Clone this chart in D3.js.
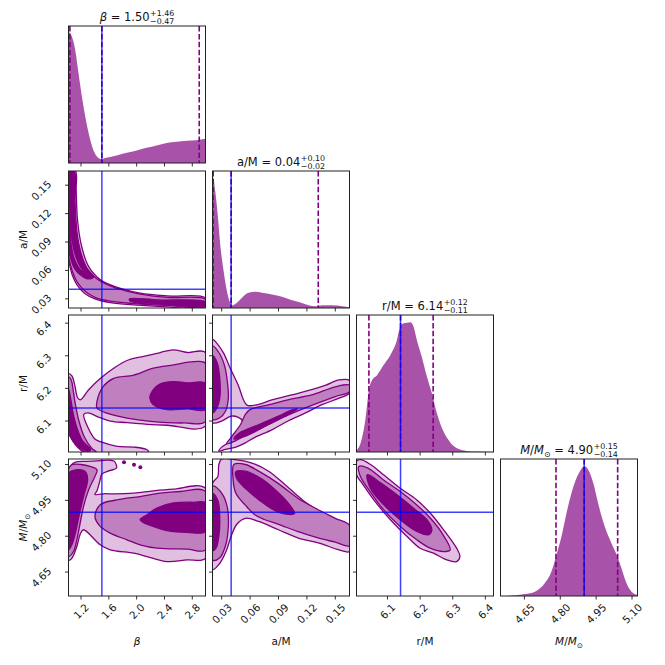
<!DOCTYPE html>
<html>
<head>
<meta charset="utf-8">
<script src="https://cdn.jsdelivr.net/npm/d3@7"></script>
<style>
body { margin: 0; background: #fff; }
svg { font-family: "DejaVu Sans", sans-serif; }
</style>
</head>
<body>
<svg id="chart" width="665" height="665"></svg>
<script>
// parameters, axis ranges and ticks
const names = ["beta", "a", "r", "M"];
const ranges = [[1.02, 2.99], [0.0203, 0.165], [6.005, 6.425], [4.55, 5.123]];
const betaTicks = [1.2, 1.6, 2.0, 2.4, 2.8];
const aTicks = [0.03, 0.06, 0.09, 0.12, 0.15];
const rTicks = [6.1, 6.2, 6.3, 6.4];
const mTicks = [4.65, 4.80, 4.95, 5.10];
const tickFormats = [".1f", ".2f", ".1f", ".2f"];
const truths = [1.50, 0.04, 6.14, 4.90];
const quantiles = [[1.04, 1.50, 2.90], [0.021, 0.04, 0.132], [6.043, 6.14, 6.240], [4.782, 4.90, 5.04]];
const medians = ["1.50", "0.04", "6.14", "4.90"];
const plusErr = ["+1.46", "+0.10", "+0.12", "+0.15"];
const minusErr = ["\u22120.47", "\u22120.02", "\u22120.11", "\u22120.14"];

// 1D marginal densities (normalised to peak 1)
const betaHistX = [1.02, 1.03, 1.068, 1.116, 1.163, 1.211, 1.259, 1.307, 1.355, 1.402, 1.45, 1.498, 1.546, 1.618, 1.713, 1.857, 2.0, 2.144, 2.287, 2.43, 2.574, 2.717, 2.861, 2.99];
const betaHistY = [1.0, 1.0, 0.969, 0.868, 0.691, 0.514, 0.362, 0.235, 0.134, 0.071, 0.038, 0.028, 0.038, 0.046, 0.058, 0.078, 0.096, 0.116, 0.134, 0.154, 0.162, 0.170, 0.175, 0.185];
const aHistX = [0.0203, 0.021, 0.023, 0.026, 0.0284, 0.032, 0.0355, 0.039, 0.0415, 0.0443, 0.0478, 0.053, 0.0584, 0.0655, 0.0725, 0.0831, 0.0937, 0.1043, 0.1149, 0.122, 0.129, 0.136, 0.1467, 0.1573, 0.165];
const aHistY = [1.0, 1.0, 0.907, 0.70, 0.493, 0.285, 0.13, 0.039, 0.021, 0.031, 0.052, 0.091, 0.117, 0.124, 0.117, 0.104, 0.086, 0.06, 0.039, 0.021, 0.013, 0.021, 0.021, 0.013, 0.005];
const rHistX = [6.005, 6.017, 6.032, 6.043, 6.053, 6.068, 6.088, 6.109, 6.129, 6.139, 6.149, 6.16, 6.17, 6.18, 6.19, 6.205, 6.221, 6.236, 6.251, 6.271, 6.292, 6.312, 6.343, 6.373, 6.425];
const rHistY = [0.013, 0.064, 0.243, 0.474, 0.551, 0.589, 0.666, 0.743, 0.858, 0.96, 0.986, 0.991, 0.994, 0.96, 0.858, 0.73, 0.576, 0.45, 0.30, 0.16, 0.075, 0.03, 0.008, 0.003, 0.0];
const mHistX = [4.55, 4.61, 4.652, 4.694, 4.735, 4.763, 4.784, 4.805, 4.826, 4.847, 4.868, 4.886, 4.9, 4.917, 4.938, 4.958, 4.986, 5.014, 5.039, 5.056, 5.077, 5.098, 5.123];
const mHistY = [0.0, 0.005, 0.015, 0.033, 0.097, 0.187, 0.315, 0.456, 0.635, 0.789, 0.904, 0.968, 0.994, 0.968, 0.866, 0.712, 0.533, 0.405, 0.302, 0.213, 0.097, 0.033, 0.008];

// 2D credible regions: [outer, middle, inner] level polygons, in data units
const betaA_light = [[[1.02,0.165],[1.12,0.165],[1.13,0.145],[1.15,0.113],[1.21,0.085],[1.31,0.064],[1.48,0.050],[1.72,0.042],[2.05,0.036],[2.44,0.033],[2.99,0.031],[2.99,0.0205],[2.44,0.0215],[1.96,0.0235],[1.62,0.026],[1.40,0.030],[1.25,0.036],[1.14,0.045],[1.07,0.056],[1.03,0.068],[1.02,0.072]]];
const betaA_medium = [[[1.02,0.165],[1.10,0.165],[1.115,0.131],[1.14,0.102],[1.19,0.081],[1.29,0.062],[1.48,0.0485],[1.72,0.041],[2.05,0.035],[2.44,0.0316],[2.99,0.0295],[2.99,0.022],[2.44,0.023],[1.96,0.025],[1.62,0.0275],[1.40,0.0315],[1.26,0.038],[1.15,0.047],[1.08,0.058],[1.035,0.07],[1.02,0.076]]];
const betaA_dark = [
  [[1.02,0.165],[1.095,0.165],[1.105,0.13],[1.13,0.10],[1.175,0.082],[1.26,0.064],[1.38,0.053],[1.30,0.051],[1.18,0.056],[1.10,0.063],[1.05,0.073],[1.02,0.082]],
  [[1.03,0.125],[1.06,0.098],[1.11,0.078],[1.19,0.064],[1.29,0.056],[1.19,0.061],[1.10,0.073],[1.05,0.092],[1.025,0.118]],
  [[1.90,0.030],[2.3,0.0288],[2.99,0.0268],[2.99,0.0228],[2.4,0.024],[2.0,0.0258],[1.90,0.028]]];

const betaR_light = [[[1.02,6.245],[1.07,6.238],[1.11,6.21],[1.15,6.172],[1.19,6.165],[1.31,6.196],[1.48,6.231],[1.67,6.262],[1.88,6.287],[2.10,6.298],[2.34,6.31],[2.53,6.318],[2.73,6.31],[2.99,6.31],[2.99,6.085],[2.44,6.087],[2.15,6.09],[1.86,6.095],[1.62,6.10],[1.45,6.112],[1.30,6.125],[1.24,6.12],[1.30,6.08],[1.40,6.045],[1.50,6.035],[1.72,6.022],[1.96,6.02],[2.15,6.012],[2.17,6.005],[1.25,6.005],[1.15,6.02],[1.08,6.04],[1.02,6.07]]];
const betaR_medium = [
  [[1.02,6.235],[1.06,6.225],[1.09,6.19],[1.12,6.15],[1.17,6.10],[1.25,6.05],[1.36,6.015],[1.42,6.005],[1.25,6.005],[1.12,6.03],[1.04,6.055],[1.02,6.065]],
  [[1.43,6.16],[1.52,6.206],[1.67,6.231],[1.96,6.241],[2.24,6.262],[2.53,6.272],[2.82,6.282],[2.99,6.277],[2.99,6.099],[2.68,6.094],[2.20,6.099],[1.86,6.109],[1.57,6.124],[1.43,6.14]]];
const betaR_dark = [
  [[1.02,6.20],[1.05,6.17],[1.09,6.12],[1.14,6.08],[1.22,6.04],[1.34,6.012],[1.30,6.007],[1.18,6.02],[1.08,6.04],[1.02,6.07]],
  [[2.19,6.17],[2.22,6.19],[2.34,6.214],[2.53,6.221],[2.73,6.217],[2.99,6.216],[2.99,6.135],[2.73,6.137],[2.44,6.135],[2.24,6.15]]];

const betaM_light = [[[1.02,4.70],[1.02,5.07],[1.05,5.095],[1.12,5.11],[1.28,5.113],[1.48,5.116],[1.60,5.118],[1.68,5.113],[1.71,5.085],[1.62,5.075],[1.50,5.06],[1.47,5.03],[1.43,4.99],[1.40,4.975],[1.55,4.978],[1.67,4.977],[1.96,4.98],[2.24,4.99],[2.53,4.997],[2.99,5.0],[2.99,4.708],[2.725,4.701],[2.437,4.694],[2.149,4.715],[1.957,4.729],[1.62,4.743],[1.476,4.764],[1.236,4.827],[1.19,4.81],[1.14,4.757],[1.068,4.708]]];
const betaM_medium = [
  [[1.02,4.715],[1.02,5.08],[1.07,5.099],[1.20,5.10],[1.33,5.092],[1.43,5.078],[1.40,5.05],[1.31,4.994],[1.236,4.924],[1.188,4.855],[1.14,4.785],[1.092,4.736]],
  [[1.40,4.883],[1.476,4.932],[1.717,4.952],[2.05,4.966],[2.34,4.98],[2.63,4.987],[2.99,4.987],[2.99,4.743],[2.725,4.746],[2.29,4.75],[2.05,4.764],[1.86,4.785],[1.62,4.813],[1.476,4.841]]];
const betaM_dark = [
  [[1.02,4.743],[1.02,5.064],[1.14,5.078],[1.26,5.071],[1.295,5.036],[1.236,4.966],[1.18,4.897],[1.13,4.827],[1.068,4.764]],
  [[2.05,4.869],[2.149,4.89],[2.29,4.918],[2.53,4.939],[2.82,4.942],[2.99,4.939],[2.99,4.82],[2.725,4.816],[2.437,4.823],[2.245,4.84],[2.1,4.857]]];
const betaM_dots = [[1.818,5.109],[1.962,5.099],[2.053,5.088]];

const aR_light = [[[0.0203,6.35],[0.025,6.338],[0.032,6.308],[0.039,6.262],[0.048,6.206],[0.053,6.165],[0.057,6.148],[0.07,6.152],[0.083,6.165],[0.104,6.18],[0.125,6.196],[0.14,6.21],[0.154,6.226],[0.165,6.224],[0.165,6.186],[0.154,6.17],[0.136,6.15],[0.118,6.124],[0.10,6.10],[0.083,6.073],[0.065,6.05],[0.055,6.033],[0.045,6.02],[0.034,6.013],[0.027,6.008],[0.03,6.02],[0.04,6.04],[0.048,6.07],[0.052,6.1],[0.047,6.112],[0.04,6.115],[0.030,6.10],[0.0203,6.095]]];
const aR_medium = [
  [[0.0203,6.33],[0.027,6.31],[0.033,6.27],[0.036,6.22],[0.037,6.17],[0.034,6.13],[0.028,6.11],[0.0203,6.105]],
  [[0.06,6.135],[0.08,6.15],[0.10,6.165],[0.125,6.18],[0.15,6.205],[0.165,6.21],[0.165,6.19],[0.15,6.175],[0.125,6.148],[0.10,6.118],[0.08,6.09],[0.06,6.065],[0.045,6.04],[0.035,6.03],[0.04,6.05],[0.05,6.09],[0.055,6.12]]];
const aR_dark = [
  [[0.0203,6.30],[0.025,6.28],[0.028,6.23],[0.028,6.17],[0.025,6.14],[0.0203,6.125]],
  [[0.048,6.062],[0.07,6.09],[0.09,6.115],[0.105,6.135],[0.11,6.137],[0.10,6.12],[0.08,6.09],[0.06,6.06],[0.046,6.045],[0.043,6.045]]];

const aM_light = [[[0.0203,5.02],[0.026,5.05],[0.027,5.10],[0.030,5.123],[0.044,5.12],[0.062,5.106],[0.08,5.071],[0.097,5.015],[0.115,4.953],[0.133,4.904],[0.154,4.855],[0.165,4.82],[0.165,4.736],[0.154,4.743],[0.133,4.771],[0.111,4.792],[0.09,4.827],[0.069,4.862],[0.055,4.875],[0.046,4.85],[0.040,4.80],[0.035,4.74],[0.028,4.687],[0.0203,4.66]]];
const aM_medium = [
  [[0.0203,5.01],[0.03,4.98],[0.036,4.92],[0.037,4.84],[0.034,4.76],[0.028,4.71],[0.0203,4.70]],
  [[0.043,5.10],[0.055,5.10],[0.07,5.07],[0.09,5.02],[0.11,4.96],[0.13,4.915],[0.15,4.875],[0.165,4.845],[0.165,4.76],[0.15,4.775],[0.13,4.795],[0.11,4.82],[0.09,4.85],[0.075,4.87],[0.065,4.89],[0.055,4.93],[0.045,4.98],[0.042,5.04]]];
const aM_dark = [
  [[0.0203,4.98],[0.026,4.95],[0.028,4.87],[0.027,4.80],[0.024,4.75],[0.0203,4.74]],
  [[0.045,5.07],[0.055,5.072],[0.07,5.045],[0.085,5.0],[0.10,4.94],[0.107,4.895],[0.098,4.892],[0.085,4.91],[0.07,4.95],[0.055,5.0],[0.046,5.04]]];

const rM_light = [[[6.005,5.113],[6.017,5.12],[6.048,5.1],[6.088,5.057],[6.139,5.001],[6.19,4.952],[6.231,4.897],[6.272,4.827],[6.312,4.75],[6.322,4.715],[6.312,4.694],[6.282,4.701],[6.241,4.729],[6.2,4.75],[6.16,4.799],[6.109,4.869],[6.058,4.952],[6.022,5.022],[6.005,5.057]]];
const rM_medium = [[[6.012,5.092],[6.04,5.085],[6.088,5.035],[6.139,4.987],[6.19,4.931],[6.231,4.876],[6.267,4.813],[6.292,4.743],[6.272,4.736],[6.231,4.75],[6.19,4.785],[6.139,4.841],[6.088,4.911],[6.043,4.994],[6.017,5.05]]];
const rM_dark = [[[6.038,5.057],[6.08,5.022],[6.129,4.973],[6.18,4.917],[6.221,4.869],[6.236,4.827],[6.226,4.806],[6.19,4.82],[6.139,4.869],[6.088,4.932],[6.048,5.0]]];

const tickLists = [betaTicks, aTicks, rTicks, mTicks];
const histX = [betaHistX, aHistX, rHistX, mHistX];
const histY = [betaHistY, aHistY, rHistY, mHistY];
const pairs = [
  {row: 1, col: 0, levels: [betaA_light, betaA_medium, betaA_dark]},
  {row: 2, col: 0, levels: [betaR_light, betaR_medium, betaR_dark]},
  {row: 3, col: 0, levels: [betaM_light, betaM_medium, betaM_dark], dots: betaM_dots},
  {row: 2, col: 1, levels: [aR_light, aR_medium, aR_dark]},
  {row: 3, col: 1, levels: [aM_light, aM_medium, aM_dark]},
  {row: 3, col: 2, levels: [rM_light, rM_medium, rM_dark]}
];

const purple = "#800080";
const levelFills = ["#e0bfe0", "#c080c0", "#800080"];
const colX = [68.5, 212.5, 356.5, 500.5];
const rowY = [26, 171, 315, 459];
const size = 137;

const svg = d3.select("#chart");

const xScales = names.map((n, j) => d3.scaleLinear().domain(ranges[j]).range([colX[j], colX[j] + size]));
const yScales = names.map((n, i) => d3.scaleLinear().domain(ranges[i]).range([rowY[i] + size, rowY[i]]));

const labelParts = {
  beta: [{t: "\u03b2", it: true}],
  a: [{t: "a/M"}],
  r: [{t: "r/M"}],
  M: [{t: "M", it: true}, {t: "/"}, {t: "M", it: true}, {t: "\u2299", sub: true}]
};

function addParts(text, parts, fs) {
  let shift = 0;
  parts.forEach(p => {
    const ts = text.append("tspan").text(p.t);
    if (p.it) ts.attr("font-style", "italic");
    if (p.sub) {
      ts.attr("font-size", fs * 0.7).attr("dy", fs * 0.3);
      shift = fs * 0.3;
    } else if (shift) {
      ts.attr("dy", -shift);
      shift = 0;
    }
  });
  return shift;
}

function clipFor(id, x, y) {
  svg.append("clipPath").attr("id", id)
    .append("rect").attr("x", x).attr("y", y).attr("width", size).attr("height", size);
  return "url(#" + id + ")";
}

function xTicks(col, row, withLabels) {
  const x = xScales[col];
  const y0 = rowY[row] + size;
  const g = svg.append("g");
  tickLists[col].forEach(v => {
    g.append("line").attr("x1", x(v)).attr("x2", x(v)).attr("y1", y0).attr("y2", y0 + 3.5)
      .attr("stroke", "#000").attr("stroke-width", 0.8);
    if (withLabels) {
      const lg = g.append("g");
      lg.append("text").attr("transform", "rotate(-45)").attr("text-anchor", "middle")
        .attr("font-size", 10.3).attr("fill", "#111").text(d3.format(tickFormats[col])(v));
      const bb = lg.node().getBBox();
      lg.attr("transform", `translate(${x(v) - (bb.x + bb.width / 2)},${y0 + 5 - bb.y})`);
    }
  });
}

function yTicks(row, col, withLabels) {
  const y = yScales[row];
  const x0 = colX[col];
  const g = svg.append("g");
  tickLists[row].forEach(v => {
    g.append("line").attr("x1", x0 - 3.5).attr("x2", x0).attr("y1", y(v)).attr("y2", y(v))
      .attr("stroke", "#000").attr("stroke-width", 0.8);
    if (withLabels) {
      const lg = g.append("g");
      lg.append("text").attr("transform", "rotate(-45)").attr("text-anchor", "middle")
        .attr("font-size", 10.3).attr("fill", "#111").text(d3.format(tickFormats[row])(v));
      const bb = lg.node().getBBox();
      lg.attr("transform", `translate(${x0 - 15 - (bb.x + bb.width)},${y(v) + 5 - (bb.y + bb.height / 2)})`);
    }
  });
}

function frame(col, row) {
  svg.append("rect").attr("x", colX[col]).attr("y", rowY[row]).attr("width", size).attr("height", size)
    .attr("fill", "none").attr("stroke", "#222").attr("stroke-width", 1);
}

// diagonal: marginal histograms
names.forEach((n, k) => {
  const x = xScales[k];
  const y = d3.scaleLinear().domain([0, 1.05]).range([rowY[k] + size, rowY[k]]);
  const clip = clipFor("clipd" + k, colX[k], rowY[k]);
  const g = svg.append("g").attr("clip-path", clip);
  const pts = histX[k].map((v, i) => [v, histY[k][i]]);
  const area = d3.area().x(d => x(d[0])).y0(y(0)).y1(d => y(d[1])).curve(d3.curveMonotoneX);
  g.append("path").attr("d", area(pts)).attr("fill", purple).attr("fill-opacity", 0.68);
  quantiles[k].forEach(q => {
    g.append("line").attr("x1", x(q)).attr("x2", x(q)).attr("y1", rowY[k]).attr("y2", rowY[k] + size)
      .attr("stroke", purple).attr("stroke-width", 1.6).attr("stroke-dasharray", "5.5,2.4");
  });
  g.append("line").attr("x1", x(truths[k])).attr("x2", x(truths[k])).attr("y1", rowY[k]).attr("y2", rowY[k] + size)
    .attr("stroke", "#0000ff").attr("stroke-opacity", 0.75).attr("stroke-width", 1.5);
  frame(k, k);
  xTicks(k, k, k === 3);

  // title
  const fs = 11.5;
  const tg = svg.append("g");
  const main = tg.append("text").attr("font-size", fs).attr("fill", "#111");
  const sh = addParts(main, labelParts[n], fs);
  main.append("tspan").attr("dy", sh ? -sh : null).text(" = " + medians[k]);
  const w = main.node().getComputedTextLength();
  const up = tg.append("text").attr("x", w + 0.5).attr("y", -5.5).attr("font-size", 7.9).attr("fill", "#111").text(plusErr[k]);
  const lo = tg.append("text").attr("x", w + 0.5).attr("y", 2.8).attr("font-size", 7.9).attr("fill", "#111").text(minusErr[k]);
  const total = w + 0.5 + Math.max(up.node().getComputedTextLength(), lo.node().getComputedTextLength());
  tg.attr("transform", `translate(${colX[k] + size / 2 - total / 2},${rowY[k] - 5})`);
});

// off-diagonal: 2D credible regions
const polyLine = d3.line().curve(d3.curveCatmullRomClosed.alpha(0.5));
pairs.forEach(p => {
  const x = xScales[p.col], y = yScales[p.row];
  const clip = clipFor("clip" + p.row + p.col, colX[p.col], rowY[p.row]);
  const g = svg.append("g").attr("clip-path", clip);
  p.levels.forEach((polys, li) => {
    const d = polys.map(poly => polyLine(poly.map(pt => [x(pt[0]), y(pt[1])]))).join("");
    g.append("path").attr("d", d).attr("fill", levelFills[li]).attr("fill-rule", "evenodd")
      .attr("stroke", purple).attr("stroke-width", 1.3).attr("stroke-linejoin", "round");
  });
  if (p.dots) {
    g.selectAll("circle.pt").data(p.dots).enter().append("circle")
      .attr("cx", d => x(d[0])).attr("cy", d => y(d[1])).attr("r", 2).attr("fill", purple);
  }
  g.append("line").attr("x1", x(truths[p.col])).attr("x2", x(truths[p.col])).attr("y1", rowY[p.row]).attr("y2", rowY[p.row] + size)
    .attr("stroke", "#0000ff").attr("stroke-opacity", 0.75).attr("stroke-width", 1.5);
  g.append("line").attr("x1", colX[p.col]).attr("x2", colX[p.col] + size).attr("y1", y(truths[p.row])).attr("y2", y(truths[p.row]))
    .attr("stroke", "#0000ff").attr("stroke-opacity", 0.75).attr("stroke-width", 1.5);
  frame(p.col, p.row);
  xTicks(p.col, p.row, p.row === 3);
  yTicks(p.row, p.col, p.col === 0);
});

// axis labels
names.forEach((n, k) => {
  const t = svg.append("text").attr("x", colX[k] + size / 2).attr("y", 645)
    .attr("text-anchor", "middle").attr("font-size", 10.5).attr("fill", "#111");
  addParts(t, labelParts[n], 10.5);
  if (k > 0) {
    const ty = svg.append("text").attr("transform", `translate(27,${rowY[k] + size / 2}) rotate(-90)`)
      .attr("text-anchor", "middle").attr("font-size", 10.5).attr("fill", "#111");
    addParts(ty, labelParts[n], 10.5);
  }
});
</script>
</body>
</html>
